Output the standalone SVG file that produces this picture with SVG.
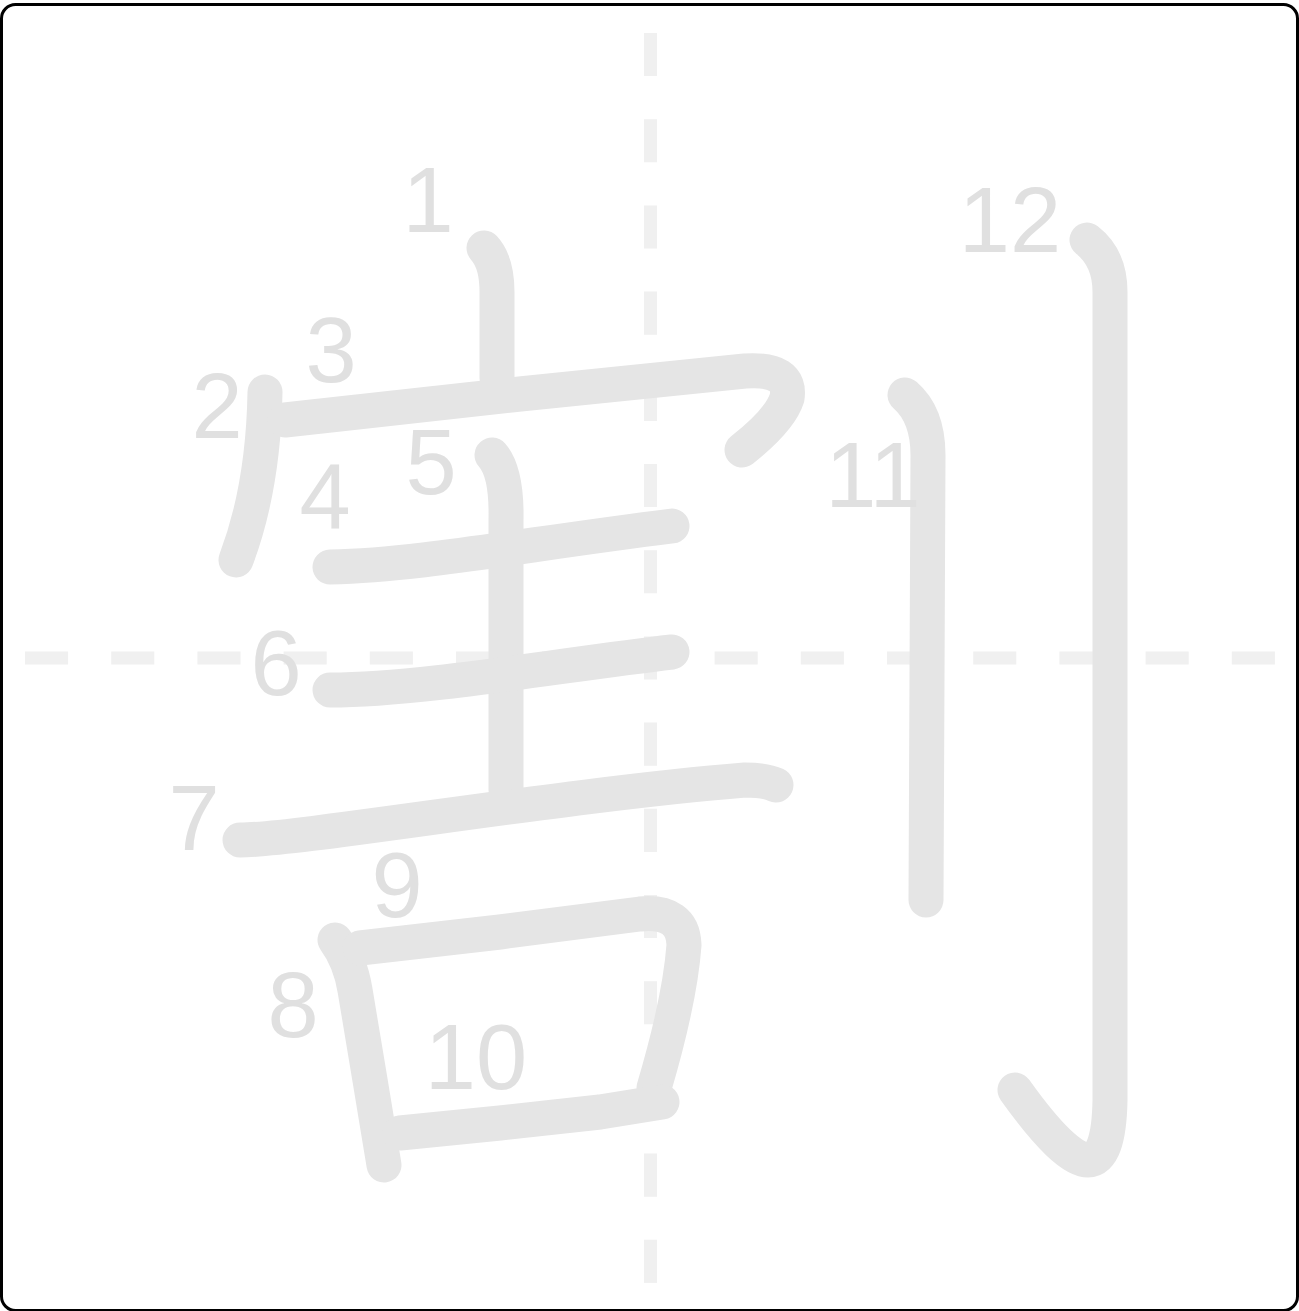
<svg xmlns="http://www.w3.org/2000/svg" width="1299" height="1311" viewBox="0 0 1299 1311">
<style>
.guide{stroke:#f0f0f0;stroke-width:13;stroke-dasharray:43.1 43.1;fill:none}
.stroke{fill:none;stroke:#e5e5e5;stroke-width:35;stroke-linecap:round;stroke-linejoin:round}
.num{font-family:"Liberation Sans",Arial,sans-serif;font-size:92px;fill:#e0e0e0;text-anchor:middle}
</style>
<rect x="1.5" y="4.5" width="1296" height="1306" rx="14" fill="#ffffff" stroke="#000000" stroke-width="3"/>
<g id="guides">
<line class="guide" x1="650.5" y1="33" x2="650.5" y2="1284"/>
<line class="guide" x1="25" y1="658" x2="1276" y2="658"/>
</g>
<g id="strokes">
<path id="s1" class="stroke" d="M484,248 Q497,262 497,292 L497,378"/>
<path id="s2" class="stroke" d="M265,392 C264,450 255,510 236,560"/>
<path id="s3" class="stroke" d="M285,420 L520,394 L745,371 Q792,368 787,398 Q780,420 742,450"/>
<path id="s4" class="stroke" d="M330,567 C420,565 520,545 672,526"/>
<path id="s5" class="stroke" d="M492,455 Q507,472 506,520 L506,790"/>
<path id="s6" class="stroke" d="M330,690 C420,690 560,665 672,652"/>
<path id="s7" class="stroke" d="M240,840 C300,840 560,795 745,780 Q765,780 776,785"/>
<path id="s8" class="stroke" d="M335,940 Q350,960 355,990 L370,1080 L384,1165"/>
<path id="s9" class="stroke" d="M360,948 L500,932 L640,914 Q683,910 684,945 Q680,1000 654,1088"/>
<path id="s10" class="stroke" d="M400,1133 L500,1123 L600,1112 L662,1102"/>
<path id="s11" class="stroke" d="M905,395 Q928,415 928,455 L926,900"/>
<path id="s12" class="stroke" d="M1087,240 Q1110,258 1110,292 L1110,1100 Q1109,1160 1088,1160 Q1065,1160 1015,1090"/>
</g>
<g id="numbers">
<text class="num" x="428" y="232">1</text>
<text class="num" x="217" y="438">2</text>
<text class="num" x="331" y="382">3</text>
<text class="num" x="325" y="528">4</text>
<text class="num" x="431" y="494">5</text>
<text class="num" x="276" y="695">6</text>
<text class="num" x="194" y="850">7</text>
<text class="num" x="293" y="1037">8</text>
<text class="num" x="397" y="917">9</text>
<text class="num" x="476" y="1089">10</text>
<text class="num" x="873" y="507">11</text>
<text class="num" x="1010" y="252">12</text>
</g>
</svg>
